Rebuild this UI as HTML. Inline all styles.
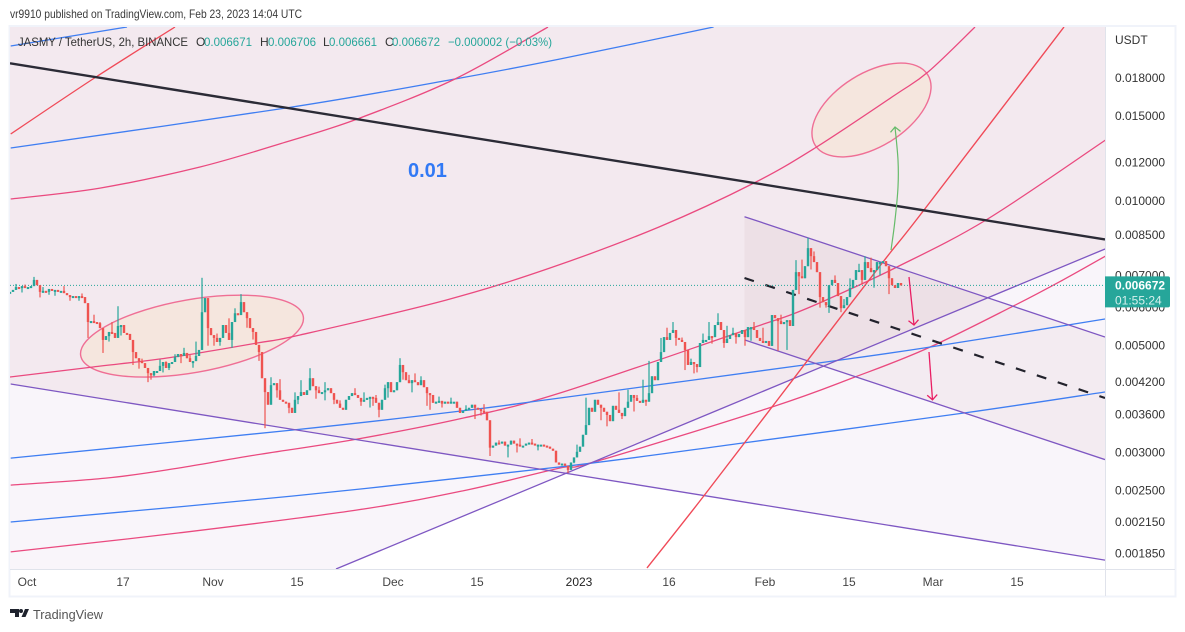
<!DOCTYPE html>
<html lang="en">
<head>
<meta charset="utf-8">
<title>JASMY / TetherUS chart</title>
<style>
html,body{margin:0;padding:0;background:#fff;width:1185px;height:632px;overflow:hidden}
svg{display:block;font-family:"Liberation Sans",Arial,sans-serif}
</style>
</head>
<body>
<svg id="chart" xmlns="http://www.w3.org/2000/svg" width="1185" height="632" viewBox="0 0 1185 632">
  <defs><clipPath id="pane-clip"><rect x="10" y="27" width="1095" height="542"/></clipPath></defs>
  <text x="10" y="18" font-size="12" fill="#3a3a3a" textLength="292" lengthAdjust="spacingAndGlyphs">vr9910 published on TradingView.com, Feb 23, 2023 14:04 UTC</text>
  <rect x="9.5" y="26" width="1166" height="570.5" fill="#fff" stroke="#f0f3fa" stroke-width="2"/>
  <g id="pane" clip-path="url(#pane-clip)"></g>
  <g id="axes"></g>
  <g font-size="12">
    <text x="18" y="46" fill="#333" textLength="170" lengthAdjust="spacingAndGlyphs">JASMY / TetherUS, 2h, BINANCE</text>
    <text x="196" y="46" fill="#333">O</text>
    <text x="204" y="46" fill="#26a69a" textLength="48" lengthAdjust="spacingAndGlyphs">0.006671</text>
    <text x="260" y="46" fill="#333">H</text>
    <text x="268" y="46" fill="#26a69a" textLength="48" lengthAdjust="spacingAndGlyphs">0.006706</text>
    <text x="323" y="46" fill="#333">L</text>
    <text x="329" y="46" fill="#26a69a" textLength="48" lengthAdjust="spacingAndGlyphs">0.006661</text>
    <text x="385" y="46" fill="#333">C</text>
    <text x="392" y="46" fill="#26a69a" textLength="48" lengthAdjust="spacingAndGlyphs">0.006672</text>
    <text x="448" y="46" fill="#26a69a" textLength="104" lengthAdjust="spacingAndGlyphs">−0.000002 (−0.03%)</text>
  </g>
  <g>
    <path fill="#1e222d" d="M10 609h9v8h-4v-4h-5zM21 609a2 2 0 1 1 0 4a2 2 0 1 1 0-4zM25 609h4l-3.500 8h-4z"/>
    <text x="33" y="619" font-size="13" fill="#555" textLength="70" lengthAdjust="spacingAndGlyphs">TradingView</text>
  </g>
</svg>
<script>
// Price values are in millionths of USDT; days are counted from Oct 1 2022.
var priceTicks = [18000,15000,12000,10000,8500,7000,6000,5000,4200,3600,3000,2500,2150,1850];
var timeTickDays = [0,16,31,45,61,75,92,107,123,137,151,165];
var timeTickLabels = ['Oct','17','Nov','15','Dec','15','2023','16','Feb','15','Mar','15'];
var firstCandleDay = -2.833;
var candleStepDays = 0.5;
var lastPrice = 6672;
var closes = [6470,6530,6620,6590,6650,6590,6620,6650,6850,6680,6470,6500,6470,6560,6500,6530,6500,6500,6430,6370,6310,6340,6310,6340,6310,6130,5600,5625,5600,5570,5440,5140,5235,5340,5315,5190,5495,5520,5315,5290,5140,4850,4710,4645,4600,4495,4385,4340,4430,4430,4540,4625,4495,4600,4625,4735,4805,4760,4830,4710,4625,4645,4760,4900,5870,6280,5440,5260,5190,5090,5190,5520,5315,5140,5600,5840,5790,6160,5870,5705,5440,5340,5020,4850,4280,4005,3770,4140,4180,4040,3860,3825,3805,3715,3625,3860,3930,4005,3950,4040,4280,4120,4040,3985,4005,4040,4080,3985,3860,3790,3715,3680,3860,3930,3985,3950,3895,3825,3860,3895,3915,3895,3805,3680,3860,4080,4200,4005,4040,4200,4560,4405,4240,4180,4240,4200,4140,4240,4100,3985,3950,3805,3825,3840,3790,3825,3805,3825,3825,3715,3625,3660,3695,3715,3770,3715,3695,3660,3645,3500,3070,3100,3145,3130,3160,3100,3115,3175,3130,3115,3100,3100,3130,3145,3130,3115,3115,3115,3100,3085,3055,3025,2860,2830,2845,2815,2760,2860,2930,3010,3085,3265,3420,3715,3645,3860,3770,3715,3645,3590,3485,3750,3680,3625,3570,3715,3825,3950,3895,3840,3805,3860,3825,3985,4320,4240,4625,4850,5210,5140,5315,5390,5190,5140,5090,4900,4560,4625,4580,4515,5065,5140,5140,5235,5210,5520,5600,5390,5065,5165,5260,5315,5210,5290,5390,5210,5465,5465,5390,5190,5115,5065,5115,4995,5790,5705,5625,5545,5600,5650,5495,6530,7110,6970,6905,7315,7975,7675,7460,7110,6310,6160,6070,6680,6850,6750,6340,5985,6070,6310,6590,6850,7180,7180,6850,7460,7250,7110,7180,7460,7460,7495,7315,6905,6680,6590,6750,6672];
var highWickBars = [8,18,28,34,36,55,58,62,64,71,73,77,90,97,100,115,127,130,135,189,192,206,213,217,221,233,236,254,262,266,280,285,2,5,11,24,30,38,44,50,52,60,66,69,75,80,82,87,95,103,105,110,118,122,125,133,137,143,147,152,158,163,170,174,195,203,209,211,219,224,227,231,239,241,248,251,257,264,268,275,278,283,287,292];
var highWickPrices = [6950,6650,5800,5600,6040,4800,4950,5100,6920,5500,5700,6400,4260,4240,4490,4080,4120,4710,4380,3115,3900,4050,4650,5190,5600,5600,5840,5600,7530,8380,6900,7670,6720,6700,6620,6420,5600,5500,4700,4680,4640,4780,5700,5300,5980,5600,5200,4300,4000,4110,4200,3850,4000,3950,4150,4350,4320,3920,3900,3760,3780,3180,3210,3200,3800,4000,3950,4250,5450,5200,4700,5300,5500,5450,5600,5450,5800,7550,7850,7000,6250,7400,7620,7450];
var lowWickBars = [15,20,26,31,41,46,48,68,79,85,93,108,120,123,140,155,160,166,186,199,225,229,245,259,270,273,277,288,4,10,13,23,33,37,43,47,51,53,57,61,66,70,74,81,83,89,96,102,105,112,117,121,126,131,134,139,144,150,157,169,176,188,197,204,208,212,216,222,228,234,238,242,247,250,256,263,267,272,279,284,290,293];
var lowWickPrices = [6350,6200,5190,4830,4560,4200,4320,5000,5450,3370,3620,3780,3720,3550,3680,3520,2950,2930,2720,3400,4450,4400,5000,4900,6000,5850,5870,6600,6450,6300,6380,6200,5100,5250,4480,4250,4400,4450,4600,4500,5000,5000,4950,5150,4650,3900,3780,3880,3850,3700,3750,3750,3900,4250,4000,3750,3720,3640,3580,3000,3030,2850,3500,3520,3650,3750,4300,5000,4380,5050,4950,5050,5120,5250,4880,6400,7200,6000,6200,6700,7000,6400];

var blackDays = [-2.83,179.67];
var blackPrices = [19310,8313];
var blueTopDays = [-2.72,16.67];
var blueTopPrices = [20980,22975];
var redTopDays = [-2.72,11.5,24.67];
var redTopPrices = [13770,18086,22975];
var blueBDays = [-2.72,43.17,71.33,88.83,114.43];
var blueBPrices = [12880,15590,17914,19710,22975];
var pinkADays = [-2.72,12.17,28.83,43.17,55,71.33,86.83];
var pinkAPrices = [10090,10630,11760,13250,14790,17914,22975];
var pinkBDays = [-2.83,11,23.33,38.33,45.5,69.83,87.17,105.33,121.17,131.33,144.67,150.17,158];
var pinkBPrices = [4305,4516,4714,5065,5263,6220,7253,8824,10892,12880,16594,18524,22975];
var redBigDays = [103.33,112.67,124.17,137.77,143.83,149.5,172.83];
var redBigPrices = [1726,2424,3729,6220,7792,9571,22975];
var pinkCDays = [-2.72,13.33,25.33,37.17,55,72.83,88.83,118.83,127.17,133.17,144.67,159.83,179.77];
var pinkCPrices = [2567,2655,2785,2951,3199,3539,3987,5339,5790,6220,7253,9124,13380];
var blueCDays = [-2.72,44.33,72.33,88.83,129.5,149.5,179.67];
var blueCPrices = [2921,3340,3658,3894,4560,4945,5682];
var blueDDays = [-2.72,44.33,88.83,119.33,156.17,179.67];
var blueDPrices = [2151,2436,2800,3139,3623,4007];
var pinkDDays = [-2.72,25.33,55,72.83,88.83,94.5,124.17,138,150.17,164.67,172.67,179.77];
var pinkDPrices = [1864,2042,2278,2500,2785,2866,3729,4305,4945,6070,6850,7680];
var fallingDays = [-2.72,179.67];
var fallingPrices = [4163,1793];
var risingDays = [51.5,179.67];
var risingPrices = [1718,7942];
var channelDays = [119.58,179.67];
var channelUpperPrices = [9270,5213];
var channelMidPrices = [6914,3894];
var channelLowerPrices = [5140,2900];
var greenArrowDays = [144,144.67,145.17,145.17,144.67];
var greenArrowPrices = [7900,9124,10685,12159,14240];
var pinkArrow1Days = [147,147.83];
var pinkArrow1Prices = [6946,5520];
var pinkArrow2Days = [150.33,150.92];
var pinkArrow2Prices = [4851,3860];
var ellipseDays = [27.5,140.75];
var ellipsePrices = [5235,15444];

var NS = 'http://www.w3.org/2000/svg';
var pane = document.getElementById('pane');
var axes = document.getElementById('axes');

function xOf(day){ return 27 + 6 * day; }
function yOf(price){ return 78 + 209 * Math.log(18000 / price); }
function make(tag, parent, attrs){
  var el = document.createElementNS(NS, tag);
  for (var k in attrs) el.setAttribute(k, attrs[k]);
  parent.appendChild(el);
  return el;
}
function pts(days, prices){
  return days.map(function(d, i){ return [xOf(d), yOf(prices[i])]; });
}
function smooth(p){
  var s = 'M' + p[0][0].toFixed(1) + ' ' + p[0][1].toFixed(1);
  for (var i = 0; i < p.length - 1; i++) {
    var a = p[Math.max(i - 1, 0)], b = p[i], c = p[i + 1], d = p[Math.min(i + 2, p.length - 1)];
    s += 'C' + (b[0] + (c[0] - a[0]) / 6).toFixed(1) + ' ' + (b[1] + (c[1] - a[1]) / 6).toFixed(1) + ' ' +
      (c[0] - (d[0] - b[0]) / 6).toFixed(1) + ' ' + (c[1] - (d[1] - b[1]) / 6).toFixed(1) + ' ' +
      c[0].toFixed(1) + ' ' + c[1].toFixed(1);
  }
  return s;
}
function lineY(p, x){ return p[0][1] + (p[1][1] - p[0][1]) * (x - p[0][0]) / (p[1][0] - p[0][0]); }
function poly(list){ return list.map(function(q){ return q[0].toFixed(1) + ',' + q[1].toFixed(1); }).join(' '); }

// fan background zones
var fall = pts(fallingDays, fallingPrices);
var rise = pts(risingDays, risingPrices);
var slopeF = (fall[1][1] - fall[0][1]) / (fall[1][0] - fall[0][0]);
var slopeR = (rise[1][1] - rise[0][1]) / (rise[1][0] - rise[0][0]);
var crossX = (rise[0][1] - slopeR * rise[0][0] - fall[0][1] + slopeF * fall[0][0]) / (slopeF - slopeR);
var crossY = lineY(fall, crossX);

var bgTop = make('rect', pane, {x:10, y:27, width:1095, height:542, fill:'#f3e9ef'});


var bgMid = make('polygon', pane, {fill:'#f9f5fa', points: poly([[10,lineY(fall,10)],[crossX,crossY],[1105,lineY(rise,1105)],[1105,569],[10,569]])});


var bgLow = make('polygon', pane, {fill:'#ffffff', points: poly([[xOf(risingDays[0]),lineY(rise,xOf(risingDays[0]))],[crossX,crossY],[1105,lineY(fall,1105)],[1105,569],[xOf(risingDays[0]),569]])});



// channel fill
var chUp = pts(channelDays, channelUpperPrices);
var chLow = pts(channelDays, channelLowerPrices);
var chFill = make('polygon', pane, {fill:'rgba(130,50,80,0.05)', points: poly([chUp[0], chUp[1], chLow[1], chLow[0]])});



// ellipse fills
var e1 = make('ellipse', pane, {cx:xOf(ellipseDays[0]), cy:yOf(ellipsePrices[0]), rx:113, ry:36.5, fill:'#f5e6de', stroke:'#ef6f95', 'stroke-width':1.4, transform:'rotate(-10 ' + xOf(ellipseDays[0]) + ' ' + yOf(ellipsePrices[0]) + ')'});


var e2 = make('ellipse', pane, {cx:xOf(ellipseDays[1]), cy:yOf(ellipsePrices[1]), rx:66.4, ry:36.6, fill:'#f5e6de', stroke:'#ef6f95', 'stroke-width':1.4, transform:'rotate(-32 ' + xOf(ellipseDays[1]) + ' ' + yOf(ellipsePrices[1]) + ')'});



function drawCurve(name, days, prices, color, width, dash){
  var attrs = {d: smooth(pts(days, prices)), fill:'none', stroke:color, 'stroke-width':width};
  if (dash) attrs['stroke-dasharray'] = dash;
  var el = make('path', pane, attrs);
  
  
  return el;
}
var BLUE = '#3f7ef2', PINK = '#ea4a7f', RED = '#f04a58', PURPLE = '#7e57c2';
drawCurve('blue-arc-top', blueTopDays, blueTopPrices, BLUE, 1.3);
drawCurve('red-arc-top', redTopDays, redTopPrices, RED, 1.3);
drawCurve('blue-arc-b', blueBDays, blueBPrices, BLUE, 1.3);
drawCurve('pink-arc-a', pinkADays, pinkAPrices, PINK, 1.3);
drawCurve('pink-arc-b', pinkBDays, pinkBPrices, PINK, 1.3);
drawCurve('pink-arc-c', pinkCDays, pinkCPrices, PINK, 1.3);
drawCurve('pink-arc-d', pinkDDays, pinkDPrices, PINK, 1.3);
drawCurve('blue-arc-c', blueCDays, blueCPrices, BLUE, 1.3);
drawCurve('blue-arc-d', blueDDays, blueDPrices, BLUE, 1.3);
drawCurve('purple-falling-line', fallingDays, fallingPrices, PURPLE, 1.3);
drawCurve('purple-rising-line', risingDays, risingPrices, PURPLE, 1.3);
drawCurve('channel-upper-line', channelDays, channelUpperPrices, PURPLE, 1.3);
drawCurve('channel-lower-line', channelDays, channelLowerPrices, PURPLE, 1.3);
drawCurve('red-steep-arc', redBigDays, redBigPrices, RED, 1.4);
drawCurve('black-trendline', blackDays, blackPrices, '#2b2b36', 2.4);
drawCurve('channel-midline-dashed', channelDays, channelMidPrices, '#22222c', 2.2, '10 12');

// last price line
var lastLine = make('line', pane, {x1:10, x2:1105, y1:yOf(lastPrice), y2:yOf(lastPrice), stroke:'#26a69a', 'stroke-width':1, 'stroke-dasharray':'1 2'});



// candles
closes.forEach(function(c, i){
  var o = i ? closes[i - 1] : c;
  var hi = Math.max(o, c), lo = Math.min(o, c);
  var hb = highWickBars.indexOf(i), lb = lowWickBars.indexOf(i);
  if (hb >= 0) hi = Math.max(hi, highWickPrices[hb]);
  if (lb >= 0) lo = Math.min(lo, lowWickPrices[lb]);
  var x = xOf(firstCandleDay + i * candleStepDays);
  var col = c >= o ? '#26a69a' : '#ef5350';
  var wick = make('line', pane, {x1:x, x2:x, y1:yOf(hi), y2:yOf(lo), stroke:col, 'stroke-width':1.2});
  
  
  var top = yOf(Math.max(o, c)), bot = yOf(Math.min(o, c));
  var body = make('rect', pane, {x:x - 1.2, y:top, width:2.4, height:Math.max(bot - top, 2), fill:col});
  
  
});

// arrows
function drawArrow(name, days, prices, color, width, wing){
  var p = pts(days, prices);
  var shaft = make('path', pane, {d: smooth(p), fill:'none', stroke:color, 'stroke-width':width});
  
  
  var a = p[p.length - 2], b = p[p.length - 1];
  var ang = Math.atan2(b[1] - a[1], b[0] - a[0]);
  var w1 = [b[0] - wing * Math.cos(ang - 0.8), b[1] - wing * Math.sin(ang - 0.8)];
  var w2 = [b[0] - wing * Math.cos(ang + 0.8), b[1] - wing * Math.sin(ang + 0.8)];
  var head = make('polyline', pane, {points: poly([w1, b, w2]), fill:'none', stroke:color, 'stroke-width':width});
  
  
}
drawArrow('green-target-arrow', greenArrowDays, greenArrowPrices, '#66bb6a', 1.2, 7);
drawArrow('pink-down-arrow-1', pinkArrow1Days, pinkArrow1Prices, '#e91e63', 1.3, 7);
drawArrow('pink-down-arrow-2', pinkArrow2Days, pinkArrow2Prices, '#e91e63', 1.3, 7);

var annotation = make('text', pane, {x:408, y:177, 'font-size':20, 'font-weight':'bold', fill:'#3179f5'});


annotation.textContent = '0.01';

// axes
var vLine = make('line', axes, {x1:1105.5, x2:1105.5, y1:27, y2:596, stroke:'#e0e3eb', 'stroke-width':1});


var hLine = make('line', axes, {x1:10, x2:1175, y1:569.5, y2:569.5, stroke:'#e0e3eb', 'stroke-width':1});


var unit = make('text', axes, {x:1115, y:44, 'font-size':12, fill:'#333'});


unit.textContent = 'USDT';
priceTicks.forEach(function(p){
  var t = make('text', axes, {x:1115, y:yOf(p) + 4, 'font-size':12, fill:'#333'});
  
  
  t.textContent = (p / 1e6).toFixed(6);
});
timeTickDays.forEach(function(d, i){
  var bold = timeTickLabels[i] === '2023';
  var t = make('text', axes, {x:xOf(d), y:586, 'font-size':12, 'text-anchor':'middle', fill: bold ? '#222' : '#444'});
  
  
  t.textContent = timeTickLabels[i];
});
var tagY = yOf(lastPrice);
var tag = make('path', axes, {d:'M1105 ' + (tagY - 9) + 'h63a2 2 0 0 1 2 2v27a2 2 0 0 1-2 2h-63z', fill:'#26a69a'});


var tagText = make('text', axes, {x:1115, y:tagY + 4, 'font-size':12, 'font-weight':'bold', fill:'#fff'});


tagText.textContent = (lastPrice / 1e6).toFixed(6);
var tagTimer = make('text', axes, {x:1115, y:tagY + 19, 'font-size':12, fill:'#d6f0ed'});


tagTimer.textContent = '01:55:24';
</script>
</body>
</html>
